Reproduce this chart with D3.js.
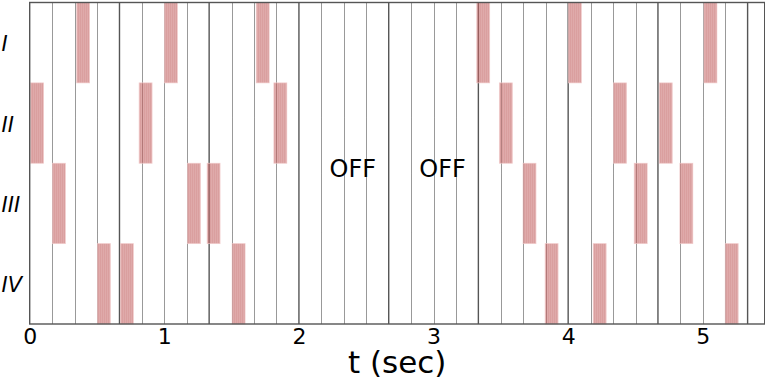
<!DOCTYPE html>
<html>
<head>
<meta charset="utf-8">
<script src="https://cdn.jsdelivr.net/npm/d3@7"></script>
<style>
  html, body { margin: 0; padding: 0; background: #fff; }
  svg { display: block; font-family: "DejaVu Sans", sans-serif; }
</style>
</head>
<body>
<svg id="chart" width="765" height="380"></svg>
<script>
// ---- data ----
const rowLabels = ["I", "II", "III", "IV"];
const xTicks = [0, 1, 2, 3, 4, 5];
const periodStarts = [0, 0.667, 1.333, 2, 2.667, 3.333, 4, 4.667, 5.333];
const slotFractions = [0.25, 0.5, 0.75];
const periodLength = 0.667;
const barRows = ["II", "III", "I", "IV",
                 "IV", "II", "I", "III",
                 "III", "IV", "I", "II",
                 "I", "II", "III", "IV",
                 "I", "IV", "II", "III",
                 "II", "III", "I", "IV"];
const barStarts = [0.007, 0.169, 0.349, 0.503,
                   0.674, 0.813, 1.001, 1.172,
                   1.318, 1.504, 1.683, 1.814,
                   3.321, 3.489, 3.665, 3.829,
                   4.002, 4.186, 4.337, 4.491,
                   4.677, 4.830, 5.009, 5.167];
const barDuration = 0.096;
const offTimes = [2.4, 3.067];
const offText = "OFF";
const xLabel = "t (sec)";
const xMax = 5.46;

// ---- layout ----
const svg = d3.select("#chart");
const pLeft = 29.7, pRight = 764.7, pTop = 2.5, pBottom = 324;
const x = d3.scaleLinear().domain([0, xMax]).range([pLeft, pRight]);
const y = d3.scaleBand().domain(rowLabels).range([pTop, pBottom]).padding(0);

const defs = svg.append("defs");
const pat = defs.append("pattern").attr("id", "stripes")
  .attr("patternUnits", "userSpaceOnUse").attr("width", 2).attr("height", 4);
pat.append("rect").attr("x", 0).attr("y", 0).attr("width", 1).attr("height", 4)
  .attr("fill", "rgba(196,100,100,0.62)");
pat.append("rect").attr("x", 1).attr("y", 0).attr("width", 1).attr("height", 4)
  .attr("fill", "rgba(200,108,108,0.58)");

// dotted sub-slot lines
const dotted = [];
periodStarts.forEach(p => slotFractions.forEach(f => {
  const t = p + f * periodLength;
  if (t < xMax) dotted.push(t);
}));
svg.append("g").selectAll("line").data(dotted).join("line")
  .attr("x1", d => Math.round(x(d)) + 0.5).attr("x2", d => Math.round(x(d)) + 0.5)
  .attr("y1", pTop).attr("y2", pBottom)
  .attr("stroke", "#333").attr("stroke-width", 1)
  .attr("stroke-dasharray", "1,1");

// solid period lines
svg.append("g").selectAll("line").data(periodStarts.filter(d => d > 0)).join("line")
  .attr("x1", d => x(d)).attr("x2", d => x(d))
  .attr("y1", pTop).attr("y2", pBottom)
  .attr("stroke", "#555").attr("stroke-width", 1.4);

// bars
const bars = barStarts.map((s, i) => ({ s, row: barRows[i] }));
svg.append("g").selectAll("rect").data(bars).join("rect")
  .attr("x", d => x(d.s))
  .attr("y", d => y(d.row))
  .attr("width", d => x(d.s + barDuration) - x(d.s))
  .attr("height", y.bandwidth())
  .attr("fill", "url(#stripes)")
  .attr("stroke", "rgba(240,200,200,0.8)")
  .attr("stroke-width", 0.8);

// frame
svg.append("rect")
  .attr("x", pLeft).attr("y", pTop)
  .attr("width", pRight - pLeft).attr("height", pBottom - pTop)
  .attr("fill", "none").attr("stroke", "#555").attr("stroke-width", 1.4);

// OFF labels
svg.append("g").selectAll("text").data(offTimes).join("text")
  .attr("x", d => x(d)).attr("y", 177)
  .attr("text-anchor", "middle")
  .attr("font-size", 24).attr("fill", "#000")
  .text(offText);

// row labels
svg.append("g").selectAll("text").data(rowLabels).join("text")
  .attr("x", 1.5)
  .attr("y", d => y(d) + y.bandwidth() / 2 + 8.5)
  .attr("font-size", 21).attr("font-style", "italic").attr("fill", "#000")
  .text(d => d);

// x axis
const xAxis = d3.axisBottom(x).tickValues(xTicks).tickFormat(d3.format("d"))
  .tickSize(0).tickPadding(4);
const gx = svg.append("g").attr("transform", `translate(0,${pBottom})`).call(xAxis);
gx.select(".domain").remove();
gx.selectAll("text").attr("font-size", 22).attr("font-family", "DejaVu Sans, sans-serif")
  .attr("fill", "#000").attr("dy", "0").attr("y", 19.5);

// x label
svg.append("text")
  .attr("x", (pLeft + pRight) / 2).attr("y", 373)
  .attr("text-anchor", "middle").attr("font-size", 31).attr("fill", "#000")
  .text(xLabel);
</script>
</body>
</html>
